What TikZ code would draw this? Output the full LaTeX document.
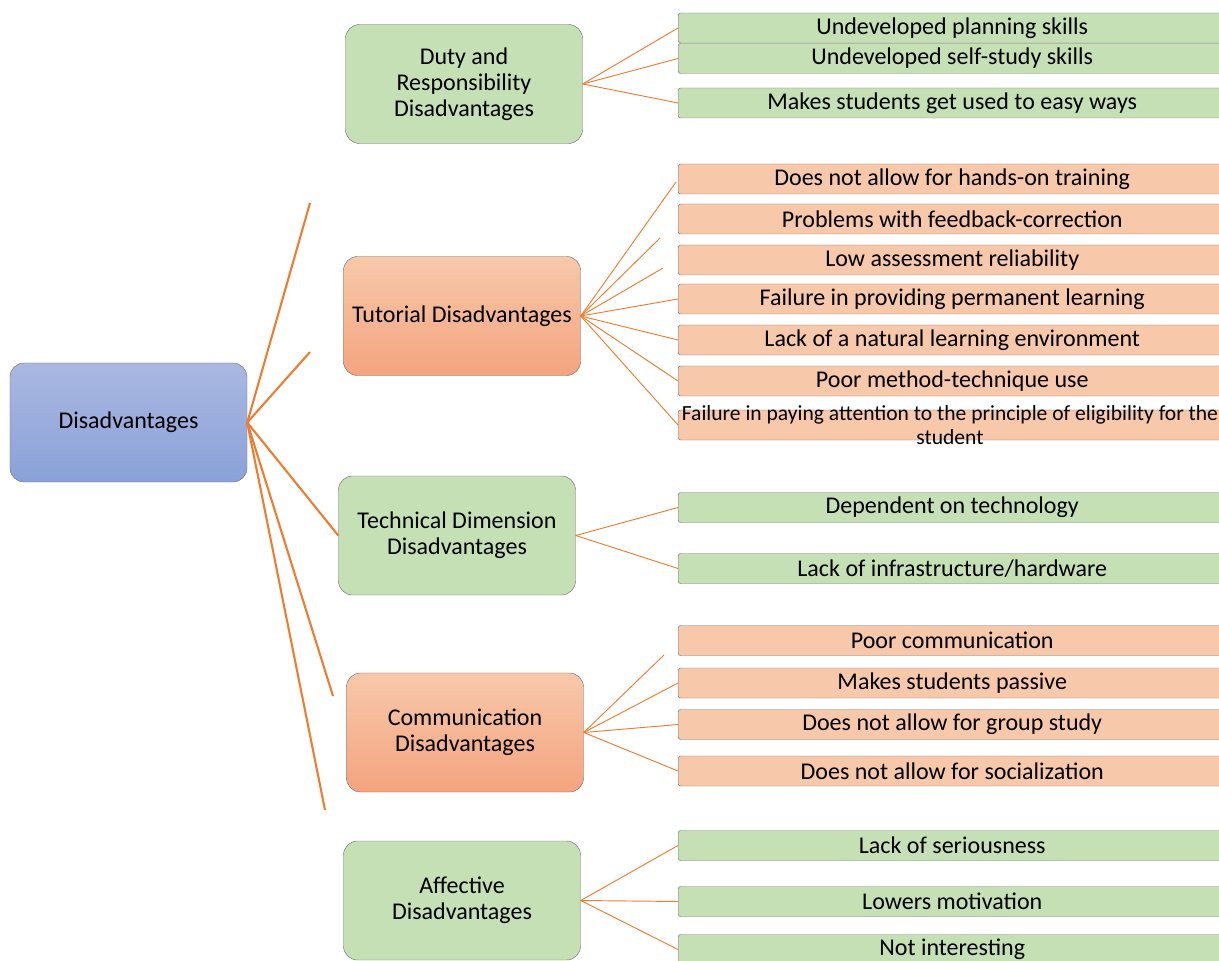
\documentclass[tikz,border=0pt]{standalone}
\usepackage{fontspec}
\setmainfont{Carlito}
\definecolor{linkorange}{HTML}{ED7D31}
\definecolor{boxgreen}{HTML}{C5E0B4}
\definecolor{boxorange}{HTML}{F7C8AA}
\definecolor{boxorangedark}{HTML}{F4A47F}
\definecolor{rootblue}{HTML}{AAB8E1}
\definecolor{rootbluedark}{HTML}{8AA1D8}
\definecolor{boxline}{HTML}{767676}
% leaf text, centred on the visible part of the box
\newcommand{\leaftxt}[1]{\makebox[16.44cm]{#1}\hspace*{1.2cm}}

\begin{document}
\begin{tikzpicture}[x=0.03cm,y=-0.03cm,font=\fontsize{20.5}{22}\selectfont,
	cat/.style={draw=boxline,rounded corners=12pt,minimum width=7.11cm,minimum height=3.57cm,align=center},
	leaf/.style={draw=boxline,rounded corners=2pt,anchor=west,minimum height=0.9cm,inner sep=0pt},
	grn/.style={fill=boxgreen},
	orng/.style={fill=boxorange},
	orngshade/.style={top color=boxorange,bottom color=boxorangedark},
	link/.style={linkorange,line width=0.8pt},
	rootlink/.style={linkorange,line width=1.8pt}]
	\useasboundingbox (0,0) rectangle (1219,961);
	\clip (0,0) rectangle (1219,961);

	% root
	\node[cat,top color=rootblue,bottom color=rootbluedark] (dis) at (128.5,422.5) {Disadvantages};

	% categories
	\node[cat,grn] (duty) at (464,84) {Duty and\\Responsibility\\Disadvantages};
	\node[cat,orngshade] (tut) at (462,316) {Tutorial Disadvantages};
	\node[cat,grn] (tech) at (457,535.5) {Technical Dimension\\Disadvantages};
	\node[cat,orngshade] (comm) at (465,732.5) {Communication\\Disadvantages};
	\node[cat,grn] (aff) at (462,900.5) {Affective\\Disadvantages};

	% duty leaves
	\node[leaf,grn] (duty1) at (678,28) {\leaftxt{Undeveloped planning skills}};
	\node[leaf,grn] (duty2) at (678,58.5) {\leaftxt{Undeveloped self-study skills}};
	\node[leaf,grn] (duty3) at (678,103) {\leaftxt{Makes students get used to easy ways}};

	% tutorial leaves
	\node[leaf,orng] (tut1) at (678,179) {\leaftxt{Does not allow for hands-on training}};
	\node[leaf,orng] (tut2) at (678,219) {\leaftxt{Problems with feedback-correction}};
	\node[leaf,orng] (tut3) at (678,260) {\leaftxt{Low assessment reliability}};
	\node[leaf,orng] (tut4) at (678,299) {\leaftxt{Failure in providing permanent learning}};
	\node[leaf,orng] (tut5) at (678,340) {\leaftxt{Lack of a natural learning environment}};
	\node[leaf,orng] (tut6) at (678,381) {\leaftxt{Poor method-technique use}};
	\node[leaf,orng] (tut7) at (678,425) {\leaftxt{}};
	\node[align=center,font=\fontsize{18.4}{20.5}\selectfont] (tut7text) at (950,425) {Failure in paying attention to the principle of eligibility for the\\student};

	% technical leaves
	\node[leaf,grn] (tech1) at (678,507.5) {\leaftxt{Dependent on technology}};
	\node[leaf,grn] (tech2) at (678,568.5) {\leaftxt{Lack of infrastructure/hardware}};

	% communication leaves
	\node[leaf,orng] (comm1) at (678,640.5) {\leaftxt{Poor communication}};
	\node[leaf,orng] (comm2) at (678,683) {\leaftxt{Makes students passive}};
	\node[leaf,orng] (comm3) at (678,724.5) {\leaftxt{Does not allow for group study}};
	\node[leaf,orng] (comm4) at (678,771) {\leaftxt{Does not allow for socialization}};

	% affective leaves
	\node[leaf,grn] (aff1) at (678,845.5) {\leaftxt{Lack of seriousness}};
	\node[leaf,grn] (aff2) at (678,901.5) {\leaftxt{Lowers motivation}};
	\node[leaf,grn] (aff3) at (678,949.5) {\leaftxt{Not interesting}};

	% loose ends
	\coordinate (r1) at (310,203);
	\coordinate (r2) at (310,352);
	\coordinate (r4) at (333,696);
	\coordinate (r5) at (325,810);
	\coordinate (t1) at (676,182);
	\coordinate (t2) at (660,238);
	\coordinate (t3) at (663,268);
	\coordinate (c1) at (664,655);

	% connectors
	\foreach \e in {r1,r2,tech.west,r4,r5}
		\draw[rootlink] (dis.east) -- (\e);
	\foreach \e in {duty1,duty2,duty3}
		\draw[link] (duty.east) -- (\e.west);
	\foreach \e in {t1,t2,t3}
		\draw[link] (tut.east) -- (\e);
	\foreach \e in {tut4,tut5,tut6,tut7}
		\draw[link] (tut.east) -- (\e.west);
	\foreach \e in {tech1,tech2}
		\draw[link] (tech.east) -- (\e.west);
	\draw[link] (comm.east) -- (c1);
	\foreach \e in {comm2,comm3,comm4}
		\draw[link] (comm.east) -- (\e.west);
	\foreach \e in {aff1,aff2,aff3}
		\draw[link] (aff.east) -- (\e.west);
\end{tikzpicture}
\end{document}
